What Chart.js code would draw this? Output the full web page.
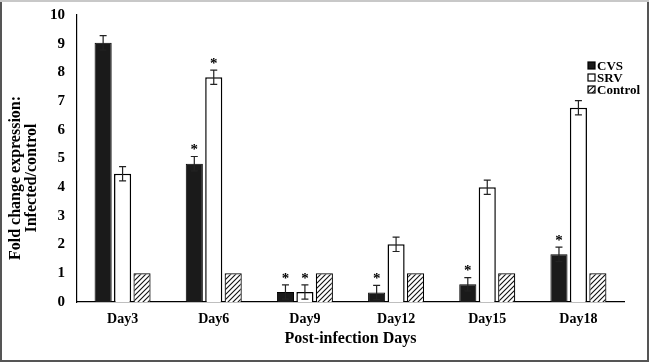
<!DOCTYPE html>
<html>
<head>
<meta charset="utf-8">
<script src="https://cdn.jsdelivr.net/npm/chart.js@4.4.0/dist/chart.umd.min.js"></script>
<style>
  html, body { margin: 0; padding: 0; background: #fff; }
  #wrap { width: 649px; height: 362px; position: relative; }
</style>
</head>
<body>
<div id="wrap"><canvas id="foldChart" width="649" height="362"></canvas></div>
<script>
// data
const days = ["Day3", "Day6", "Day9", "Day12", "Day15", "Day18"];
const cvs = [9.03, 4.82, 0.35, 0.33, 0.62, 1.66];
const srv = [4.47, 7.83, 0.35, 2.01, 4.0, 6.77];
const control = [1, 1, 1, 1, 1, 1];
const cvsErr = [0.25, 0.25, 0.25, 0.25, 0.23, 0.25];
const srvErr = [0.25, 0.25, 0.25, 0.25, 0.25, 0.25];
const controlErr = [0, 0, 0, 0, 0, 0];
const cvsStar = [false, true, true, true, true, true];
const srvStar = [false, true, true, false, false, false];
const controlStar = [false, false, false, false, false, false];
const yTicks = [0, 1, 2, 3, 4, 5, 6, 7, 8, 9, 10];
const yTitle = ["Fold change expression:", "Infected/control"];

const serif = "'Liberation Serif', 'Times New Roman', serif";

function hatch() {
    let c = document.createElement("canvas");
    c.width = 5; c.height = 5;
    let g = c.getContext("2d");
    g.fillStyle = "#fff";
    g.fillRect(0, 0, 5, 5);
    g.strokeStyle = "#111";
    g.lineWidth = 1.1;
    g.beginPath();
    g.moveTo(-1, 6); g.lineTo(6, -1);
    g.moveTo(-1, 1); g.lineTo(1, -1);
    g.moveTo(4, 6); g.lineTo(6, 4);
    g.stroke();
    return g.createPattern(c, "repeat");
}
const hatchFill = hatch();

const extras = [
    { err: cvsErr, star: cvsStar },
    { err: srvErr, star: srvStar },
    { err: controlErr, star: controlStar }
];

const pagePlugin = {
    id: "page",
    beforeDraw(chart) {
        let ctx = chart.ctx;
        ctx.save();
        ctx.fillStyle = "#fff";
        ctx.fillRect(0, 0, chart.width, chart.height);
        ctx.restore();
    },
    afterDraw(chart) {
        let ctx = chart.ctx;
        ctx.save();
        ctx.lineWidth = 2;
        ctx.strokeStyle = "#555";
        ctx.strokeRect(1, 1, chart.width - 2, chart.height - 2);
        ctx.strokeStyle = "#c8c8c8";
        ctx.beginPath(); ctx.moveTo(0, 1); ctx.lineTo(chart.width, 1); ctx.stroke();

        // y axis title, two lines rotated
        ctx.save();
        ctx.translate(0, 178);
        ctx.rotate(-Math.PI / 2);
        ctx.fillStyle = "#000";
        ctx.font = "bold 16px " + serif;
        ctx.textAlign = "center";
        ctx.textBaseline = "middle";
        ctx.fillText(yTitle[0], 0, 16);
        ctx.fillText(yTitle[1], 0, 32);
        ctx.restore();

        // legend
        let items = [
            { label: "CVS", fill: "#1a1a1a" },
            { label: "SRV", fill: "#fff" },
            { label: "Control", fill: hatchFill }
        ];
        ctx.font = "bold 13px " + serif;
        ctx.textBaseline = "middle";
        ctx.textAlign = "left";
        items.forEach((it, i) => {
            let y = 65.5 + i * 12;
            ctx.fillStyle = it.fill;
            ctx.fillRect(588, y - 3.5, 7, 7);
            ctx.lineWidth = 1.2;
            ctx.strokeStyle = "#000";
            ctx.strokeRect(588, y - 3.5, 7, 7);
            ctx.fillStyle = "#000";
            ctx.fillText(it.label, 597, y + 1);
        });
        ctx.restore();
    }
};

const errorPlugin = {
    id: "errorBars",
    afterDatasetsDraw(chart) {
        let ctx = chart.ctx;
        let yScale = chart.scales.y;
        ctx.save();
        chart.data.datasets.forEach((ds, di) => {
            let meta = chart.getDatasetMeta(di);
            let ex = extras[di];
            meta.data.forEach((bar, i) => {
                let v = ds.data[i];
                let e = ex.err[i];
                let top = yScale.getPixelForValue(v + e);
                if (e > 0) {
                    let bot = yScale.getPixelForValue(v - e);
                    ctx.strokeStyle = "#222";
                    ctx.lineWidth = 1.2;
                    ctx.beginPath();
                    ctx.moveTo(bar.x, top); ctx.lineTo(bar.x, bot);
                    ctx.moveTo(bar.x - 3.5, top); ctx.lineTo(bar.x + 3.5, top);
                    ctx.moveTo(bar.x - 3.5, bot); ctx.lineTo(bar.x + 3.5, bot);
                    ctx.stroke();
                }
                if (ex.star[i]) {
                    ctx.fillStyle = "#000";
                    ctx.font = "bold 15px " + serif;
                    ctx.textAlign = "center";
                    ctx.textBaseline = "middle";
                    ctx.fillText("*", bar.x, top - 6);
                }
            });
        });
        ctx.restore();
    }
};

new Chart(document.getElementById("foldChart").getContext("2d"), {
    type: "bar",
    plugins: [pagePlugin, errorPlugin],
    data: {
        labels: days,
        datasets: [
            { label: "CVS", data: cvs, backgroundColor: "#1a1a1a", borderColor: "#000", borderWidth: 1 },
            { label: "SRV", data: srv, backgroundColor: "#fff", borderColor: "#000", borderWidth: 1.5 },
            { label: "Control", data: control, backgroundColor: hatchFill, borderColor: "#000", borderWidth: 1.2 }
        ]
    },
    options: {
        responsive: false,
        animation: false,
        layout: { padding: { top: 0, right: 25, left: 6, bottom: 0 } },
        categoryPercentage: 0.64,
        barPercentage: 0.88,
        plugins: {
            legend: { display: false },
            tooltip: { enabled: false }
        },
        scales: {
            x: {
                afterFit(scale) { scale.height = 60; },
                grid: { display: false, drawTicks: false },
                border: { color: "#000", width: 1.2 },
                ticks: { color: "#000", font: { family: serif, size: 14, weight: "bold" }, padding: 9 },
                title: {
                    display: true,
                    text: "Post-infection Days",
                    color: "#000",
                    font: { family: serif, size: 16, weight: "bold" },
                    padding: { top: 4, bottom: 14 }
                }
            },
            y: {
                min: 0,
                max: 10,
                afterBuildTicks(scale) { scale.ticks = yTicks.map(v => ({ value: v })); },
                afterFit(scale) { scale.width = 71; scale.paddingTop = 15; scale.paddingBottom = 0; },
                grid: { display: false, drawTicks: false },
                border: { color: "#000", width: 1.2 },
                ticks: { color: "#000", font: { family: serif, size: 15, weight: "bold" }, padding: 12 },
                title: { display: false }
            }
        }
    }
});
</script>
</body>
</html>
